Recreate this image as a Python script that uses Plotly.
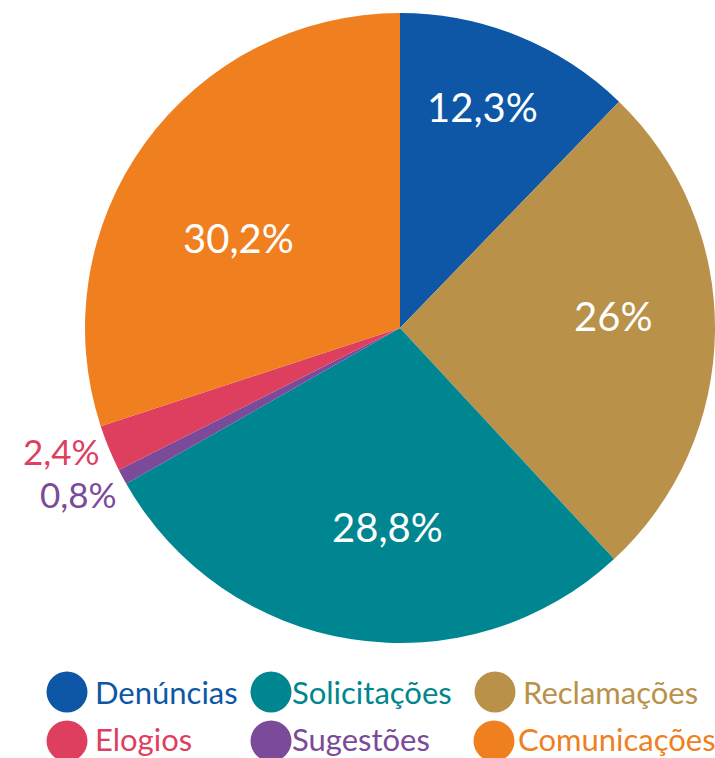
import plotly.graph_objects as go

categories = ["Denúncias", "Reclamações", "Solicitações", "Sugestões", "Elogios", "Comunicações"]
values = [12.3, 26.0, 28.8, 0.8, 2.4, 30.2]
value_labels = ["12,3%", "26%", "28,8%", "0,8%", "2,4%", "30,2%"]
colors = ["#0D57A6", "#B99149", "#008690", "#7B4A98", "#DF3F5F", "#EF7F1F"]

legend_order = ["Denúncias", "Solicitações", "Reclamações", "Elogios", "Sugestões", "Comunicações"]

W, H = 715, 758
FONT = "Lato"

# label placement (pixels from top-left) - layout only
label_pos = {
    "Denúncias": (483, 107, "white", 40),
    "Reclamações": (613, 316, "white", 40),
    "Solicitações": (387, 527, "white", 40),
    "Comunicações": (238, 238, "white", 40),
    "Elogios": (62, 451, None, 35),
    "Sugestões": (78, 494, None, 35),
}

# legend placement: circle centre x, text start x (pixels) - layout only
legend_circle_x = [67, 271, 495, 67, 271, 494]
legend_text_x = [93, 290, 521, 93, 290, 516]
legend_row_y = [692, 741]
legend_text_y = [692, 739]

fig = go.Figure()
fig.add_trace(go.Pie(
    labels=categories,
    values=values,
    text=value_labels,
    textinfo="none",
    marker=dict(colors=colors, line=dict(width=0)),
    sort=False,
    direction="clockwise",
    rotation=0,
    showlegend=False,
    hoverinfo="label+text",
    domain=dict(x=[85 / W, 1.0], y=[115 / H, 745 / H]),
))

cmap = dict(zip(categories, colors))
for cat, lab in zip(categories, value_labels):
    px, py, fc, fs = label_pos[cat]
    fig.add_annotation(x=px / W, y=1 - py / H, xref="paper", yref="paper",
                       text=lab, showarrow=False, xanchor="center", yanchor="middle",
                       font=dict(family=FONT, size=fs, color=fc or cmap[cat]))

rad = 20.5
for i, cat in enumerate(legend_order):
    cx = legend_circle_x[i]
    cy = legend_row_y[i // 3]
    fig.add_shape(type="circle", xref="paper", yref="paper",
                  x0=(cx - rad) / W, x1=(cx + rad) / W,
                  y0=1 - (cy + rad) / H, y1=1 - (cy - rad) / H,
                  fillcolor=cmap[cat], line=dict(width=0))
    fig.add_annotation(x=legend_text_x[i] / W, y=1 - legend_text_y[i // 3] / H,
                       xref="paper", yref="paper",
                       text=cat, showarrow=False, xanchor="left", yanchor="middle",
                       font=dict(family=FONT, size=31, color=cmap[cat]))

fig.update_layout(
    width=W, height=H,
    margin=dict(l=0, r=0, t=0, b=0),
    paper_bgcolor="white", plot_bgcolor="white",
    font=dict(family=FONT),
)

fig.write_html("out.html", config={"displayModeBar": False},
               post_script="document.body.style.margin='0';document.body.style.overflow='hidden';")
